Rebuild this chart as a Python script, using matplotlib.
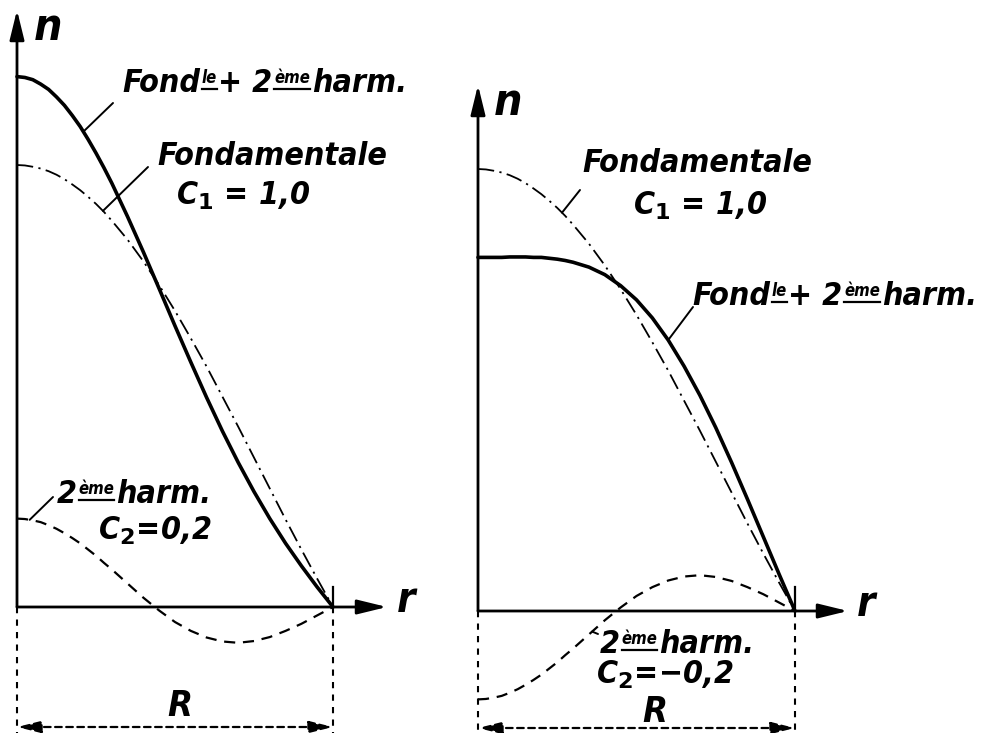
import numpy as np
import matplotlib
matplotlib.use("Agg")
import matplotlib.pyplot as plt

# ---- data (r in units of R, n relative to C1 = 1) ----
r = [0.000, 0.025, 0.050, 0.075, 0.100, 0.125, 0.150, 0.175, 0.200, 0.225, 0.250, 0.275,
     0.30, 0.35, 0.40, 0.45, 0.50, 0.55, 0.60, 0.65, 0.70, 0.75, 0.80, 0.85, 0.90, 0.95, 1.00]
fund = [1.000, 0.999, 0.996, 0.992, 0.986, 0.978, 0.968, 0.956, 0.943, 0.928, 0.912, 0.894,
        0.874, 0.831, 0.782, 0.728, 0.670, 0.608, 0.544, 0.476, 0.408, 0.338, 0.268, 0.198,
        0.130, 0.064, 0.000]
harm_left = [0.200, 0.199, 0.196, 0.192, 0.185, 0.177, 0.167, 0.156, 0.144, 0.130, 0.116, 0.100,
             0.085, 0.053, 0.021, -0.008, -0.034, -0.054, -0.069, -0.078, -0.081, -0.077,
             -0.068, -0.054, -0.038, -0.019, 0.000]
sum_left = [1.200, 1.198, 1.193, 1.183, 1.171, 1.154, 1.135, 1.112, 1.087, 1.058, 1.027, 0.994,
            0.959, 0.883, 0.803, 0.720, 0.636, 0.554, 0.474, 0.398, 0.327, 0.261, 0.200, 0.144,
            0.093, 0.045, 0.000]
harm_right = [-0.200, -0.199, -0.196, -0.192, -0.185, -0.177, -0.167, -0.156, -0.144, -0.130,
              -0.116, -0.100, -0.085, -0.053, -0.021, 0.008, 0.034, 0.054, 0.069, 0.078, 0.081,
              0.077, 0.068, 0.054, 0.038, 0.019, 0.000]
sum_right = [0.800, 0.800, 0.800, 0.800, 0.801, 0.801, 0.801, 0.800, 0.800, 0.798, 0.796, 0.793,
             0.789, 0.778, 0.761, 0.736, 0.704, 0.663, 0.613, 0.554, 0.488, 0.415, 0.336, 0.253,
             0.168, 0.083, 0.000]

W, H = 999, 733
fig = plt.figure(figsize=(W / 100, H / 100), dpi=100)
fig.patch.set_facecolor("white")

FONT = dict(family="DejaVu Sans", style="italic", weight="bold", stretch="condensed", color="black")


def make_ax(ox, oy, sx, sy):
    ax = fig.add_axes([0, 0, 1, 1])
    ax.set_xlim(-ox / sx, (W - ox) / sx)
    ax.set_ylim(-(H - oy) / sy, oy / sy)
    ax.axis("off")
    ax.patch.set_alpha(0)
    return ax


def fig_px(x, y):
    return (x / W, 1 - y / H)


renderer = fig.canvas.get_renderer()


def rich(x, y, pieces, size):
    """pieces: list of (text, is_sup). x,y: baseline start in pixels from top-left."""
    cur = x
    size_px = size * 100 / 72
    for txt, sup in pieces:
        if sup:
            fs = size * 0.52
            yb = y - size_px * 0.27
        else:
            fs = size
            yb = y
        t = fig.text(cur / W, 1 - yb / H, txt, fontsize=fs, va="baseline", ha="left", **FONT)
        bb = t.get_window_extent(renderer)
        if sup:
            yu = y - size_px * 0.10
            fig.add_artist(plt.Line2D([bb.x0 / W, bb.x1 / W], [1 - yu / H, 1 - yu / H],
                                      color="black", lw=1.6))
        cur = bb.x1 + size_px * 0.05


def panel(ax, r_end, n_top, harm, total, tick_top):
    kw = dict(arrowstyle="-|>,head_length=0.9,head_width=0.22", color="black", lw=2.0,
              shrinkA=0, shrinkB=0, mutation_scale=20)
    ax.annotate("", xy=(0, n_top), xytext=(0, 0), arrowprops=kw)
    ax.annotate("", xy=(r_end, 0), xytext=(0, 0), arrowprops=kw)
    ax.plot([r[-1], r[-1]], [0, tick_top], color="black", lw=1.6)
    ax.plot(r, fund, color="black", lw=1.3, linestyle=(0, (9, 3, 1.2, 3)))
    ax.plot(r, harm, color="black", lw=1.6, linestyle=(0, (5, 3.5)))
    ax.plot(r, total, color="black", lw=2.6, solid_capstyle="round", solid_joinstyle="round")


def dimension(ax, oy, ybot):
    yb = -(ybot - oy) / 442
    for xx in (0, 1):
        ax.plot([xx, xx], [0, -(H - oy) / 442], color="black", lw=1.5, linestyle=(0, (3, 3)))
    ax.annotate("", xy=(0, yb), xytext=(1, yb),
                arrowprops=dict(arrowstyle="<|-|>,head_length=0.8,head_width=0.2", color="black",
                                lw=1.6, linestyle=(0, (3, 2)), shrinkA=0, shrinkB=0,
                                mutation_scale=18))


# ---------------- left panel ----------------
axL = make_ax(17, 607, 316, 442)
panel(axL, (387 - 17) / 316, (607 - 10) / 442, harm_left, sum_left, 20 / 442)
dimension(axL, 607, 727)

# ---------------- right panel ----------------
axR = make_ax(478, 611, 317, 442)
panel(axR, (848 - 478) / 317, (611 - 85) / 442, harm_right, sum_right, 24 / 442)
dimension(axR, 611, 728)

# ---------------- axis letters ----------------
fig.text(*fig_px(34, 40), "n", fontsize=32, va="baseline", **FONT)
fig.text(*fig_px(397, 612), "r", fontsize=30, va="baseline", **FONT)
fig.text(*fig_px(180, 716), "R", fontsize=26, va="baseline", ha="center", **FONT)
fig.text(*fig_px(494, 115), "n", fontsize=32, va="baseline", **FONT)
fig.text(*fig_px(857, 616), "r", fontsize=30, va="baseline", **FONT)
fig.text(*fig_px(655, 722), "R", fontsize=26, va="baseline", ha="center", **FONT)

# ---------------- labels ----------------
LS = 23
rich(122, 92, [("Fond", False), ("le", True), ("+ 2", False), ("ème", True), ("harm.", False)], LS)
fig.text(*fig_px(157, 165), "Fondamentale", fontsize=LS, va="baseline", **FONT)
fig.text(*fig_px(243, 205), "C$_\\mathbf{1}$ = 1,0", fontsize=LS, va="baseline", ha="center", **FONT)
rich(57, 503, [("2", False), ("ème", True), ("harm.", False)], LS)
fig.text(*fig_px(155, 540), "C$_\\mathbf{2}$=0,2", fontsize=LS, va="baseline", ha="center", **FONT)

fig.text(*fig_px(582, 172), "Fondamentale", fontsize=LS, va="baseline", **FONT)
fig.text(*fig_px(700, 215), "C$_\\mathbf{1}$ = 1,0", fontsize=LS, va="baseline", ha="center", **FONT)
rich(692, 305, [("Fond", False), ("le", True), ("+ 2", False), ("ème", True), ("harm.", False)], LS)
rich(600, 653, [("2", False), ("ème", True), ("harm.", False)], LS)
fig.text(*fig_px(665, 684), "C$_\\mathbf{2}$=−0,2", fontsize=LS, va="baseline", ha="center", **FONT)

# ---------------- leader lines ----------------
lk = dict(arrowstyle="-", color="black", lw=1.4, shrinkA=0, shrinkB=0)


def leader(ax, rr, series, px, py):
    ax.annotate("", xy=(rr, float(np.interp(rr, r, series))), xycoords="data",
                xytext=fig_px(px, py), textcoords="figure fraction", arrowprops=lk)


leader(axL, 0.21, sum_left, 113, 103)
leader(axL, 0.272, fund, 148, 167)
leader(axL, 0.04, harm_left, 53, 497)
leader(axR, 0.265, fund, 580, 190)
leader(axR, 0.60, sum_right, 693, 307)
leader(axR, 0.36, harm_right, 598, 634)

fig.savefig("out.png", dpi=100, facecolor="white")
